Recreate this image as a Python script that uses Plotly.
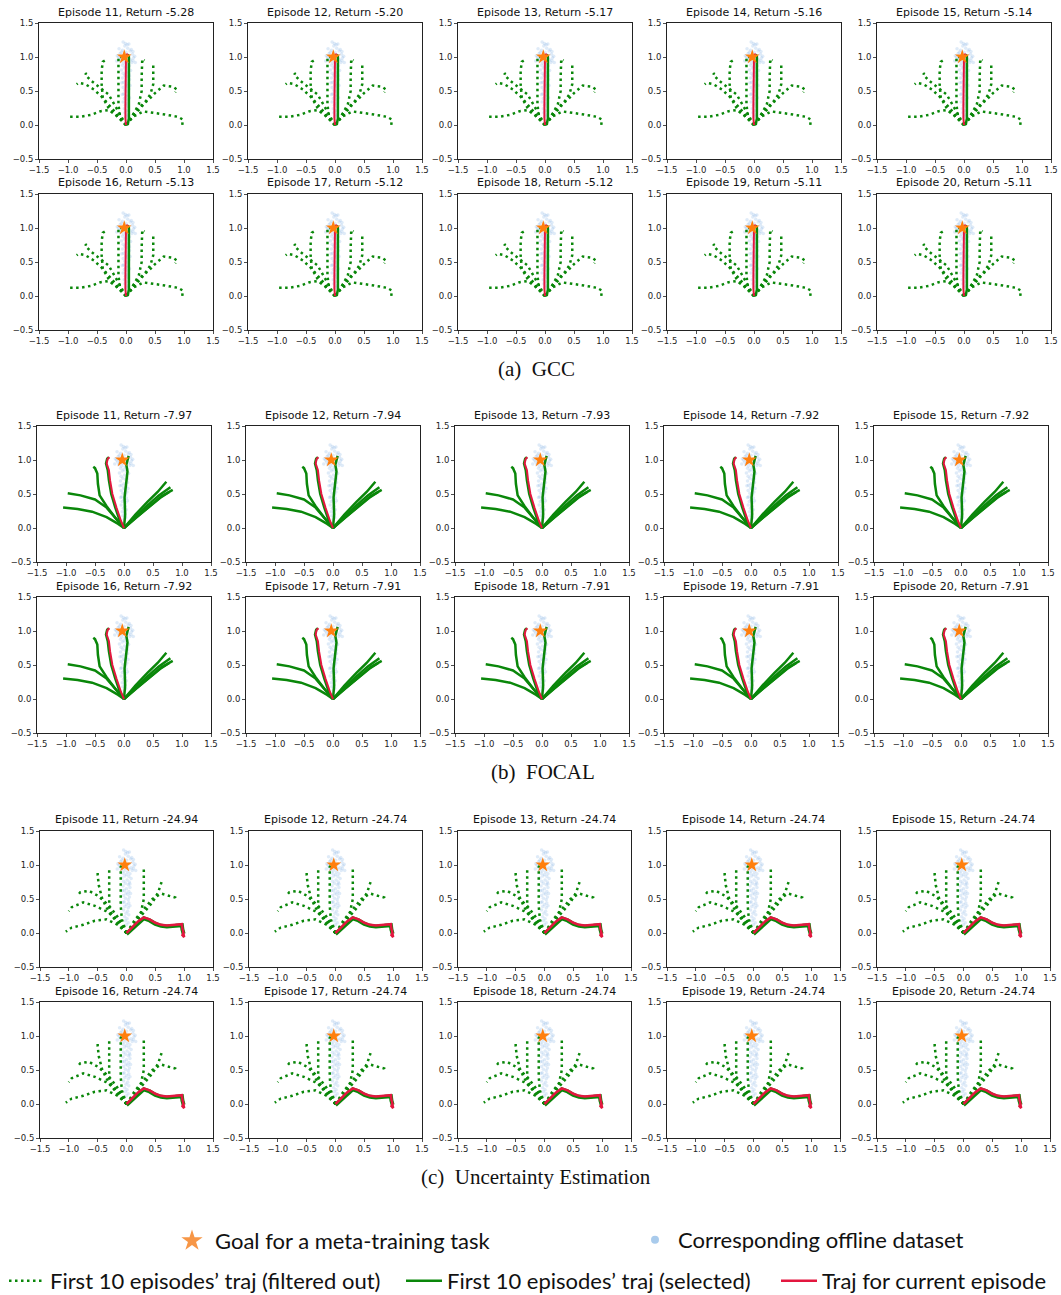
import plotly.graph_objects as go

W, H = 1061, 1295

# ---------------- data ----------------
EPISODES = [11, 12, 13, 14, 15, 16, 17, 18, 19, 20]
GCC_RETURNS = [-5.28, -5.20, -5.17, -5.16, -5.14, -5.13, -5.12, -5.12, -5.11, -5.11]
FOCAL_RETURNS = [-7.97, -7.94, -7.93, -7.92, -7.92, -7.92, -7.91, -7.91, -7.91, -7.91]
UE_RETURNS = [-24.94, -24.74, -24.74, -24.74, -24.74, -24.74, -24.74, -24.74, -24.74, -24.74]

X_TICKS = [-1.5, -1.0, -0.5, 0.0, 0.5, 1.0, 1.5]
Y_TICKS = [-0.5, 0.0, 0.5, 1.0, 1.5]

GOAL_X = [-0.03]
GOAL_Y = [1.0]

CLOUD = [
    (-0.02, 1.16), (0.03, 1.13), (-0.06, 1.10), (0.07, 1.09), (0.00, 1.07), (-0.10, 1.05), (0.11, 1.04),
    (-0.04, 1.03), (0.05, 1.02), (-0.13, 1.00), (0.13, 0.99), (0.01, 0.98), (-0.07, 0.97), (0.08, 0.96),
    (-0.02, 0.95), (0.04, 0.94), (-0.09, 0.93), (0.10, 0.92), (-0.04, 0.91), (0.02, 0.90), (-0.06, 0.88),
    (0.06, 0.87), (0.00, 0.86), (-0.03, 0.84), (0.04, 0.83), (-0.08, 0.81), (0.08, 0.80), (0.01, 0.78),
    (-0.05, 0.76), (0.05, 0.75), (-0.02, 0.73), (0.03, 0.71), (-0.06, 0.69), (0.06, 0.67), (0.00, 0.65),
    (-0.04, 0.63), (0.04, 0.61), (-0.01, 0.59), (0.02, 0.57), (-0.05, 0.55), (0.05, 0.53), (-0.02, 0.51),
    (0.03, 0.49), (-0.04, 0.46), (0.04, 0.44), (0.00, 0.42), (-0.03, 0.39), (0.03, 0.37), (-0.05, 0.34),
    (0.02, 0.32), (-0.01, 0.29), (0.04, 0.27), (-0.03, 0.24), (0.01, 0.21), (-0.02, 0.18), (0.03, 0.15),
    (0.00, 0.12), (-0.01, 1.20), (0.02, 1.18), (-0.15, 1.02), (0.15, 1.01), (-0.11, 0.97), (0.12, 0.95),
    (-0.08, 1.07), (0.09, 1.11), (0.06, 0.72), (-0.07, 0.62), (0.07, 0.58), (-0.06, 0.45), (0.06, 0.40),
    (-0.12, 1.12), (0.12, 1.08), (-0.05, 1.22), (0.05, 1.19), (-0.16, 0.94), (0.16, 0.92),
]

# (a) GCC
GCC_FILTERED = [
    [(0, 0), (-0.08, 0.08), (-0.18, 0.15), (-0.3, 0.22), (-0.45, 0.2), (-0.6, 0.15), (-0.8, 0.12), (-1.0, 0.12)],
    [(0, 0), (-0.12, 0.12), (-0.25, 0.25), (-0.4, 0.4), (-0.55, 0.52), (-0.7, 0.6), (-0.82, 0.62), (-0.85, 0.6)],
    [(0, 0), (-0.1, 0.15), (-0.2, 0.3), (-0.3, 0.45), (-0.45, 0.55), (-0.6, 0.65), (-0.68, 0.72), (-0.7, 0.76), (-0.66, 0.74)],
    [(0, 0), (-0.15, 0.12), (-0.3, 0.25), (-0.4, 0.4), (-0.42, 0.6), (-0.42, 0.8), (-0.4, 0.93), (-0.36, 0.95)],
    [(0, 0), (-0.1, 0.1), (-0.13, 0.3), (-0.13, 0.5), (-0.13, 0.7), (-0.13, 0.9), (-0.13, 1.0), (-0.08, 1.0)],
    [(0, 0), (0.12, 0.15), (0.22, 0.3), (0.27, 0.5), (0.27, 0.7), (0.27, 0.9), (0.28, 0.97), (0.32, 0.95)],
    [(0, 0), (0.15, 0.15), (0.3, 0.3), (0.42, 0.45), (0.47, 0.6), (0.47, 0.78), (0.47, 0.88), (0.5, 0.85)],
    [(0, 0), (0.12, 0.15), (0.24, 0.27), (0.39, 0.37), (0.5, 0.47), (0.65, 0.58), (0.82, 0.56), (0.88, 0.52), (0.85, 0.48)],
    [(0, 0), (0.12, 0.12), (0.3, 0.2), (0.5, 0.18), (0.7, 0.15), (0.9, 0.12), (0.98, 0.08), (0.97, 0.0), (0.99, 0.04)],
]
GCC_SELECTED = [
    [(0.03, 0.0), (0.05, 0.1), (0.05, 0.3), (0.05, 0.5), (0.05, 0.7), (0.05, 0.9), (0.05, 1.0), (0.03, 1.04)],
]
GCC_CURRENT = [(0.0, 0.0), (-0.01, 0.1), (-0.01, 0.3), (-0.01, 0.5), (-0.01, 0.7), (-0.01, 0.9), (0.0, 1.02), (0.03, 1.05)]

# (b) FOCAL
FOCAL_FILTERED = []
FOCAL_SELECTED = [
    [(0, 0), (-0.1, 0.06), (-0.3, 0.16), (-0.55, 0.24), (-0.8, 0.28), (-1.05, 0.3)],
    [(0, 0), (-0.12, 0.12), (-0.3, 0.3), (-0.5, 0.42), (-0.75, 0.48), (-0.97, 0.51)],
    [(0, 0), (-0.15, 0.15), (-0.3, 0.32), (-0.42, 0.48), (-0.45, 0.65), (-0.46, 0.8), (-0.5, 0.88), (-0.53, 0.9)],
    [(0, 0), (-0.07, 0.1), (-0.15, 0.3), (-0.22, 0.5), (-0.26, 0.7), (-0.28, 0.85), (-0.31, 0.95), (-0.29, 1.02), (-0.26, 1.04)],
    [(0, 0), (0.02, 0.2), (0.01, 0.45), (0.03, 0.65), (0.06, 0.83), (0.04, 0.93), (0.08, 1.06)],
    [(0, 0), (0.2, 0.2), (0.4, 0.38), (0.58, 0.53), (0.73, 0.68)],
    [(0, 0), (0.2, 0.17), (0.4, 0.33), (0.6, 0.48), (0.8, 0.6)],
    [(0, 0), (0.22, 0.16), (0.45, 0.33), (0.65, 0.47), (0.84, 0.56)],
    [(0, 0), (0.2, 0.15), (0.42, 0.3), (0.62, 0.44), (0.78, 0.53)],
]
FOCAL_CURRENT = [(0, 0), (-0.05, 0.1), (-0.13, 0.3), (-0.2, 0.5), (-0.24, 0.7), (-0.26, 0.85), (-0.3, 0.95), (-0.28, 1.02), (-0.25, 1.04)]

# (c) Uncertainty Estimation
UE_FILTERED = [
    [(0, 0), (-0.15, 0.12), (-0.35, 0.2), (-0.55, 0.18), (-0.75, 0.12), (-0.95, 0.08), (-1.05, 0.02), (-1.0, 0.06)],
    [(0, 0), (-0.15, 0.2), (-0.35, 0.32), (-0.55, 0.4), (-0.75, 0.45), (-0.95, 0.38), (-1.0, 0.32)],
    [(0, 0), (-0.12, 0.2), (-0.3, 0.4), (-0.5, 0.55), (-0.65, 0.62), (-0.8, 0.6), (-0.85, 0.55)],
    [(0, 0), (-0.15, 0.15), (-0.3, 0.3), (-0.42, 0.5), (-0.48, 0.7), (-0.5, 0.85), (-0.5, 0.9)],
    [(0, 0), (-0.2, 0.2), (-0.3, 0.35), (-0.3, 0.55), (-0.3, 0.75), (-0.3, 0.9), (-0.3, 0.97)],
    [(0, 0), (-0.08, 0.2), (-0.1, 0.4), (-0.1, 0.6), (-0.1, 0.8), (-0.1, 0.97), (-0.05, 1.02)],
    [(0, 0), (0.15, 0.15), (0.25, 0.3), (0.3, 0.5), (0.3, 0.7), (0.3, 0.9), (0.3, 0.97)],
    [(0, 0), (0.15, 0.15), (0.3, 0.3), (0.45, 0.45), (0.55, 0.6), (0.6, 0.72), (0.62, 0.78)],
    [(0, 0), (0.15, 0.2), (0.3, 0.35), (0.45, 0.5), (0.6, 0.58), (0.75, 0.55), (0.85, 0.52), (0.88, 0.48)],
]
UE_SELECTED = [
    [(0.0, -0.015), (0.1, 0.065), (0.2, 0.155), (0.3, 0.215), (0.4, 0.185), (0.5, 0.135), (0.6, 0.105),
     (0.7, 0.095), (0.85, 0.105), (0.96, 0.115), (0.97, 0.05), (0.99, -0.01)],
]
UE_CURRENT = [(0, 0), (0.1, 0.08), (0.2, 0.17), (0.3, 0.23), (0.4, 0.2), (0.5, 0.15), (0.6, 0.12), (0.7, 0.11),
              (0.85, 0.12), (0.96, 0.13), (0.97, 0.06), (0.99, 0.0), (0.97, -0.03), (1.0, -0.06), (0.98, 0.02)]

LEGEND_LABELS = [
    "Goal for a meta-training task",
    "Corresponding offline dataset",
    "First 10 episodes\u2019 traj (filtered out)",
    "First 10 episodes\u2019 traj (selected)",
    "Traj for current episode",
]

# ---------------- style / layout ----------------
GREEN = "#0a870a"
RED = "#e3173f"
ORANGE = "#ff7f0e"
CLOUD_COLOR = "rgba(110,165,225,0.22)"
TICK_FONT = dict(family="DejaVu Sans", size=8.5, color="#222")
TITLE_FONT = dict(family="DejaVu Sans", size=11, color="#111")

GROUPS = [
    dict(returns=GCC_RETURNS, filtered=GCC_FILTERED, selected=GCC_SELECTED, current=GCC_CURRENT,
         caption="(a)  GCC", lefts=[39, 248, 458, 667, 877], width=174, tops=[23, 194], height=136,
         cap_x=536, cap_y=369, sel_w=2.5, cur_w=2),
    dict(returns=FOCAL_RETURNS, filtered=FOCAL_FILTERED, selected=FOCAL_SELECTED, current=FOCAL_CURRENT,
         caption="(b)  FOCAL", lefts=[37, 246, 455, 664, 874], width=174, tops=[426, 597], height=136,
         cap_x=543, cap_y=772, sel_w=2.5, cur_w=2),
    dict(returns=UE_RETURNS, filtered=UE_FILTERED, selected=UE_SELECTED, current=UE_CURRENT,
         caption="(c)  Uncertainty Estimation", lefts=[40, 249, 458, 667, 877], width=173, tops=[831, 1002], height=136,
         cap_x=536, cap_y=1177, sel_w=4, cur_w=2.5),
]


def flatten(trajs):
    xs, ys = [], []
    for t in trajs:
        for (x, y) in t:
            xs.append(x)
            ys.append(y)
        xs.append(None)
        ys.append(None)
    return xs, ys


fig = go.Figure()
layout = dict(
    width=W, height=H, margin=dict(l=0, r=0, t=0, b=0, autoexpand=False),
    paper_bgcolor="white", plot_bgcolor="white", showlegend=True,
    annotations=[],
)

cloud_x = [p[0] for p in CLOUD]
cloud_y = [p[1] for p in CLOUD]

n = 0
for g in GROUPS:
    for r in range(2):
        for c in range(5):
            n += 1
            k = r * 5 + c
            xa = "x" if n == 1 else f"x{n}"
            ya = "y" if n == 1 else f"y{n}"
            xkey = "xaxis" if n == 1 else f"xaxis{n}"
            ykey = "yaxis" if n == 1 else f"yaxis{n}"
            l = g["lefts"][c]
            t = g["tops"][r]
            w = g["width"]
            h = g["height"]
            axis_common = dict(
                showgrid=False, zeroline=False, showline=True, mirror=True, linecolor="#222", linewidth=1,
                ticks="outside", ticklen=3, tickwidth=0.8, tickcolor="#222", tickfont=TICK_FONT,
                tickformat=".1f", fixedrange=True,
            )
            layout[xkey] = dict(domain=[l / W, (l + w) / W], range=[-1.5, 1.5], anchor=ya,
                                tickvals=X_TICKS, **axis_common)
            layout[ykey] = dict(domain=[1 - (t + h) / H, 1 - t / H], range=[-0.5, 1.5], anchor=xa,
                                tickvals=Y_TICKS, **axis_common)
            fig.add_trace(go.Scatter(x=cloud_x, y=cloud_y, mode="markers", xaxis=xa, yaxis=ya,
                                     marker=dict(size=3.5, color=CLOUD_COLOR, line=dict(width=0)),
                                     showlegend=False, hoverinfo="skip"))
            if g["filtered"]:
                fx, fy = flatten(g["filtered"])
                fig.add_trace(go.Scatter(x=fx, y=fy, mode="lines", xaxis=xa, yaxis=ya,
                                         line=dict(color=GREEN, width=2.5, dash="2.5px,3.5px"),
                                         showlegend=False, hoverinfo="skip"))
            sx, sy = flatten(g["selected"])
            fig.add_trace(go.Scatter(x=sx, y=sy, mode="lines", xaxis=xa, yaxis=ya,
                                     line=dict(color=GREEN, width=g["sel_w"]),
                                     showlegend=False, hoverinfo="skip"))
            fig.add_trace(go.Scatter(x=[p[0] for p in g["current"]], y=[p[1] for p in g["current"]],
                                     mode="lines", xaxis=xa, yaxis=ya,
                                     line=dict(color=RED, width=g["cur_w"]),
                                     showlegend=False, hoverinfo="skip"))
            fig.add_trace(go.Scatter(x=GOAL_X, y=GOAL_Y, mode="markers", xaxis=xa, yaxis=ya,
                                     marker=dict(symbol="star", size=11, color=ORANGE, line=dict(width=0)),
                                     showlegend=False, hoverinfo="skip"))
            layout["annotations"].append(dict(
                text=f"Episode {EPISODES[k]}, Return {g['returns'][k]:.2f}",
                xref="paper", yref="paper", x=(l + w / 2) / W, y=1 - (t - 11) / H,
                xanchor="center", yanchor="middle", showarrow=False, font=TITLE_FONT))
    layout["annotations"].append(dict(
        text=g["caption"], xref="paper", yref="paper", x=g["cap_x"] / W, y=1 - g["cap_y"] / H,
        xanchor="center", yanchor="middle", showarrow=False,
        font=dict(family="Liberation Serif", size=21, color="#111")))

# legend-only entries
LEG_FONT = dict(family="Lato", size=22, color="#111")
leg_specs = [
    dict(trace=dict(mode="markers", marker=dict(symbol="star", size=16, color="#f79646")), x=169, y=1241),
    dict(trace=dict(mode="markers", marker=dict(size=8, color="#a9cbec")), x=632, y=1240),
    dict(trace=dict(mode="lines", line=dict(color=GREEN, width=2.5, dash="2.5px,3.5px")), x=4, y=1281),
    dict(trace=dict(mode="lines", line=dict(color=GREEN, width=2.5)), x=401, y=1281),
    dict(trace=dict(mode="lines", line=dict(color=RED, width=2.5)), x=776, y=1281),
]
for i, spec in enumerate(leg_specs):
    lname = "legend" if i == 0 else f"legend{i + 1}"
    fig.add_trace(go.Scatter(x=[None], y=[None], name=LEGEND_LABELS[i], legend=lname,
                             showlegend=True, hoverinfo="skip", **spec["trace"]))
    layout[lname] = dict(x=spec["x"] / W, y=1 - spec["y"] / H, xanchor="left", yanchor="middle",
                         orientation="h", bgcolor="rgba(0,0,0,0)", borderwidth=0, font=LEG_FONT,
                         itemwidth=36, itemclick=False, itemdoubleclick=False)

fig.update_layout(**layout)
fig.write_html("out.html", config={"staticPlot": True})

with open("out.html", "r", encoding="utf-8") as f:
    html = f.read()
html = html.replace("<head>", "<head><style>html,body{margin:0;padding:0;overflow:hidden;}</style>", 1)
with open("out.html", "w", encoding="utf-8") as f:
    f.write(html)
